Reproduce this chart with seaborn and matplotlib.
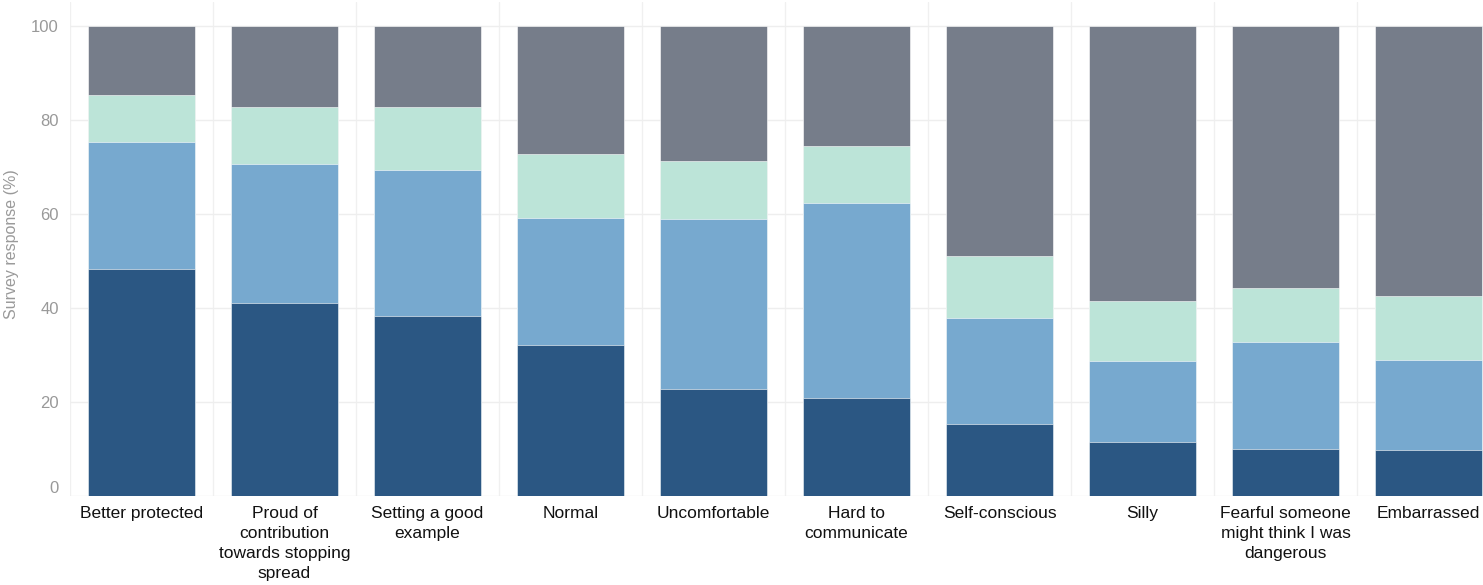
import numpy as np
import pandas as pd
import matplotlib
matplotlib.use("Agg")
import matplotlib.pyplot as plt
import seaborn as sns

categories = [
    "Better protected",
    "Proud of\ncontribution\ntowards stopping\nspread",
    "Setting a good\nexample",
    "Normal",
    "Uncomfortable",
    "Hard to\ncommunicate",
    "Self-conscious",
    "Silly",
    "Fearful someone\nmight think I was\ndangerous",
    "Embarrassed",
]

# segment sizes (%), bottom to top
strongly_agree = [48.3, 41.1, 38.3, 32.1, 22.8, 20.9, 15.3, 11.5, 10.0, 9.8]
agree = [27.0, 29.5, 31.1, 27.0, 36.1, 41.4, 22.6, 17.2, 22.8, 19.1]
neutral = [10.0, 12.2, 13.4, 13.7, 12.4, 12.2, 13.2, 12.8, 11.5, 13.7]
disagree = [14.7, 17.2, 17.2, 27.2, 28.7, 25.5, 48.9, 58.5, 55.7, 57.4]

colors = ["#2b5783", "#77a9cf", "#bce4d8", "#767d8a"]

df = pd.DataFrame({"category": categories})
segments = [strongly_agree, agree, neutral, disagree]
tops = np.cumsum(np.array(segments), axis=0)

sns.set_style("white")
plt.rcParams["font.family"] = ["Liberation Sans", "DejaVu Sans"]

fig = plt.figure(figsize=(14.83, 5.85), dpi=100)
ax = fig.add_axes([70 / 1483, 89 / 585, 1413 / 1483, 494 / 585])

# overlay cumulative totals, tallest first
for i in range(len(segments) - 1, -1, -1):
    df["top"] = tops[i]
    sns.barplot(data=df, x="category", y="top", color=colors[i], width=0.75,
                saturation=1, edgecolor="white", linewidth=0.4, ax=ax)

ax.set_ylim(0, 105.1)
ax.set_xlim(-0.5, 9.38)
ax.set_yticks([0, 20, 40, 60, 80, 100])
ax.set_xticks(range(len(categories)))
ax.set_xticklabels(categories, fontsize=12.5, color="#111111", linespacing=1.42)
ax.tick_params(axis="y", labelsize=12, colors="#999999", length=0, pad=8)
ax.tick_params(axis="x", length=0, pad=7)
ax.set_xticks(np.arange(-0.5, 9.5, 1), minor=True)
ax.grid(False)
ax.grid(True, axis="y", color="#eeeeee", linewidth=1)
ax.grid(True, axis="x", which="minor", color="#f0f0f0", linewidth=1)
ax.set_axisbelow(True)
for s in ax.spines.values():
    s.set_visible(False)

ax.set_xlabel("")
ax.set_ylabel("Survey response (%)", fontsize=11.5, color="#999999")
ax.yaxis.set_label_coords(-0.036, 0.51)
ax.get_yticklabels()[0].set_va("bottom")

fig.savefig("out.png", dpi=100)
